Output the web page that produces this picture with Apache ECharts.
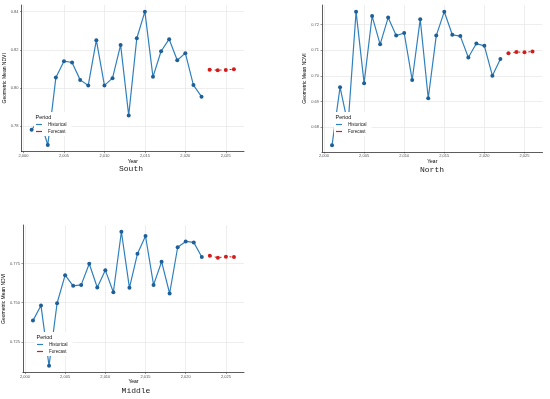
<!DOCTYPE html>
<html><head><meta charset="utf-8">
<script src="https://cdn.jsdelivr.net/npm/echarts@6/dist/echarts.min.js"></script>
<style>html,body{margin:0;padding:0;background:#fff}#c{width:550px;height:399px}</style>
</head><body><div id="c"></div>
<script>
// ---- data ----
const histYears = [2001,2002,2003,2004,2005,2006,2007,2008,2009,2010,2011,2012,2013,2014,2015,2016,2017,2018,2019,2020,2021,2022];
const foreYears = [2023,2024,2025,2026];
const southHist = [0.7782,0.7840,0.7702,0.8056,0.8141,0.8134,0.8043,0.8014,0.8251,0.8014,0.8052,0.8226,0.7857,0.8261,0.8400,0.8059,0.8193,0.8256,0.8146,0.8183,0.8016,0.7955];
const southFore = [0.8096,0.8094,0.8095,0.8099];
const northHist = [0.6730,0.6956,0.6810,0.7250,0.6972,0.7233,0.7123,0.7227,0.7157,0.7167,0.6984,0.7221,0.6913,0.7157,0.7250,0.7160,0.7155,0.7072,0.7126,0.7117,0.7001,0.7066];
const northFore = [0.7088,0.7093,0.7092,0.7095];
const middleHist = [0.7385,0.7481,0.7097,0.7496,0.7675,0.7607,0.7613,0.7748,0.7596,0.7707,0.7566,0.7952,0.7594,0.7812,0.7925,0.7613,0.7761,0.7558,0.7853,0.7890,0.7884,0.7791];
const middleFore = [0.7799,0.7786,0.7793,0.7791];
const xTicks = [2000,2005,2010,2015,2020,2025];
const southTicks = [0.78,0.80,0.82,0.84];
const northTicks = [0.68,0.69,0.70,0.71,0.72];
const middleTicks = [0.725,0.750,0.775];
const panelTitles = ['South','North','Middle'];
const seriesNames = ['Historical','Forecast'];

// ---- layout ----
const panels = [
  {hist: southHist, fore: southFore, ticks: southTicks, dec: 2, ymin: 0.7667, ymax: 0.8435,
   grid: {left: 21.5, top: 5, width: 222.5, height: 146.7}, legend: {left: 34, top: 112}, title: [131, 169]},
  {hist: northHist, fore: northFore, ticks: northTicks, dec: 2, ymin: 0.6704, ymax: 0.7276,
   grid: {left: 322, top: 5, width: 220.5, height: 147}, legend: {left: 334, top: 112}, title: [432, 169.5]},
  {hist: middleHist, fore: middleFore, ticks: middleTicks, dec: 3, ymin: 0.7054, ymax: 0.7995,
   grid: {left: 22, top: 225, width: 222, height: 147.5}, legend: {left: 35, top: 332}, title: [136, 391]}
];

const BLUE = '#2f80bd', BLUE_PT = '#1f5f98', RED = '#d41c1c';
const labelFont = 'Liberation Sans, Arial, sans-serif';

const option = {
  animation: false,
  backgroundColor: '#fff',
  grid: [], xAxis: [], yAxis: [], series: [], legend: [], graphic: []
};

panels.forEach((p, i) => {
  option.grid.push(Object.assign({containLabel: false}, p.grid));
  option.xAxis.push({
    type: 'value', gridIndex: i, min: 1999.75, max: 2027.25,
    name: 'Year', nameLocation: 'middle', nameGap: 7,
    nameTextStyle: {fontSize: 5, color: '#000', fontFamily: labelFont},
    axisLine: {show: true, lineStyle: {color: '#333', width: 0.8}},
    axisTick: {show: true, length: 1.5, customValues: xTicks, lineStyle: {color: '#333', width: 0.5}},
    axisLabel: {customValues: xTicks, fontSize: 4, color: '#555', margin: 2, fontFamily: labelFont},
    splitLine: {show: true, lineStyle: {color: '#e6e6e6', width: 0.7}}
  });
  option.yAxis.push({
    type: 'value', gridIndex: i, min: p.ymin, max: p.ymax,
    name: 'Geometric Mean NDVI', nameLocation: 'middle', nameGap: 8, nameRotate: 90,
    nameTextStyle: {fontSize: 5, color: '#000', fontFamily: labelFont},
    axisLine: {show: true, lineStyle: {color: '#333', width: 0.8}},
    axisTick: {show: true, length: 1.5, customValues: p.ticks, lineStyle: {color: '#333', width: 0.5}},
    axisLabel: {customValues: p.ticks, fontSize: 4, color: '#555', margin: 3, fontFamily: labelFont,
      formatter: v => v.toFixed(p.dec)},
    splitLine: {show: true, lineStyle: {color: '#e6e6e6', width: 0.7}}
  });
  option.series.push({
    name: seriesNames[0], type: 'line', xAxisIndex: i, yAxisIndex: i,
    data: histYears.map((y, k) => [y, p.hist[k]]),
    symbol: 'circle', symbolSize: 4, showSymbol: true,
    lineStyle: {color: BLUE, width: 1.2}, itemStyle: {color: BLUE_PT},
    color: BLUE, z: 2
  });
  option.series.push({
    name: seriesNames[1], type: 'line', xAxisIndex: i, yAxisIndex: i,
    data: foreYears.map((y, k) => [y, p.fore[k]]),
    symbol: 'circle', symbolSize: 4, showSymbol: true,
    lineStyle: {color: RED, width: 1, type: [2, 3]}, itemStyle: {color: RED},
    color: RED, z: 2
  });
  option.legend.push({
    data: [
      {name: seriesNames[0], itemStyle: {color: BLUE}},
      {name: seriesNames[1], itemStyle: {color: RED}}
    ],
    orient: 'vertical', left: p.legend.left, top: p.legend.top,
    backgroundColor: '#fff', padding: [10, 5, 2, 2], itemGap: 2,
    itemWidth: 6, itemHeight: 1.2, icon: 'rect',
    textStyle: {fontSize: 4.5, color: '#222', fontFamily: labelFont, padding: [0, 0, 0, 1]},
    selectedMode: false, z: 10
  });
  option.graphic.push({
    type: 'text', left: p.legend.left + 1.5, top: p.legend.top + 2.5, z: 20,
    style: {text: 'Period', fontSize: 5.5, fill: '#111', fontFamily: labelFont}
  });
  option.graphic.push({
    type: 'text', x: p.title[0], y: p.title[1], z: 20,
    style: {text: panelTitles[i], fontSize: 8, fill: '#222', fontFamily: 'Liberation Mono, monospace',
      align: 'center', verticalAlign: 'middle'}
  });
});

const chart = echarts.init(document.getElementById('c'), null, {renderer: 'canvas'});
chart.setOption(option);
</script></body></html>
